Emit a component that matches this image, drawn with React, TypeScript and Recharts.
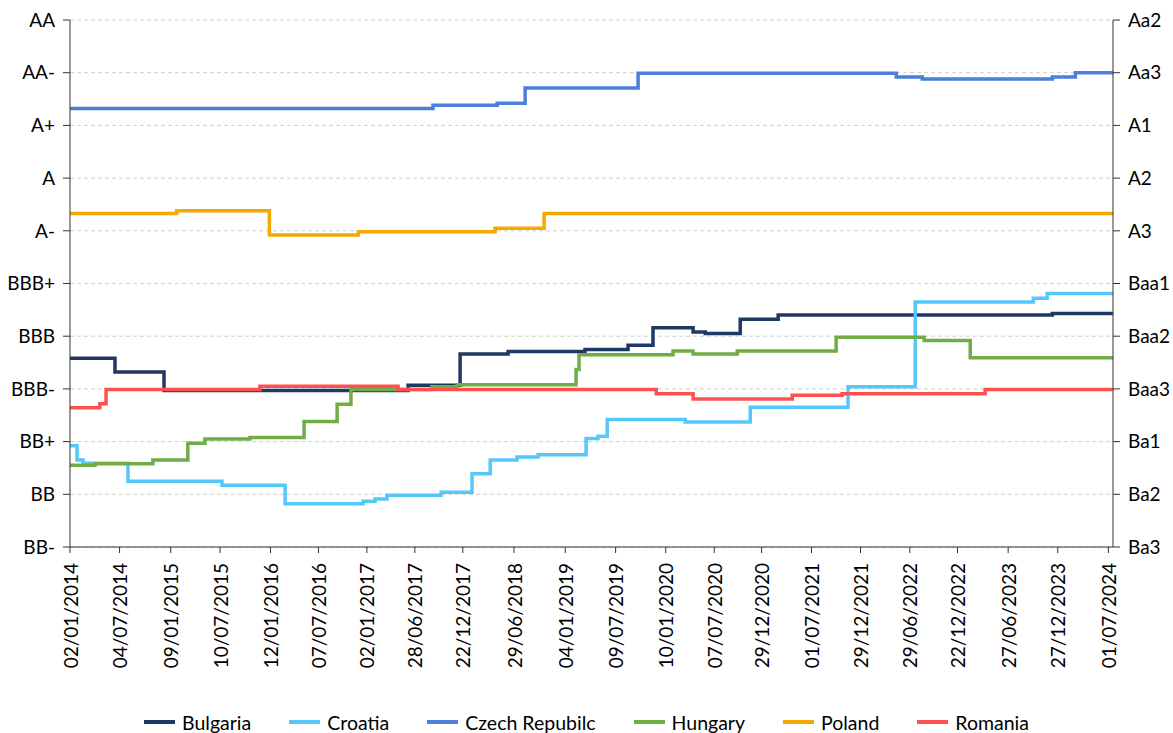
import { LineChart, Line, XAxis, YAxis, CartesianGrid, Legend } from 'recharts'

// Average sovereign rating, 0 = BB- / Ba3 ... 10 = AA / Aa2
const leftLabels = ['BB-', 'BB', 'BB+', 'BBB-', 'BBB', 'BBB+', 'A-', 'A', 'A+', 'AA-', 'AA']
const rightLabels = ['Ba3', 'Ba2', 'Ba1', 'Baa3', 'Baa2', 'Baa1', 'A3', 'A2', 'A1', 'Aa3', 'Aa2']

const tickDates = [
  '2014-01-02', '2014-07-04', '2015-01-09', '2015-07-10', '2016-01-12', '2016-07-07',
  '2017-01-02', '2017-06-28', '2017-12-22', '2018-06-29', '2019-01-04', '2019-07-09',
  '2020-01-10', '2020-07-07', '2020-12-29', '2021-07-01', '2021-12-29', '2022-06-29',
  '2022-12-22', '2023-06-27', '2023-12-27', '2024-07-01',
]
const startDate = '2014-01-02'
const endDate = '2024-07-18'

const bulgaria: [string, number][] = [
  ['2014-01-02', 3.58], ['2014-06-17', 3.32], ['2014-12-15', 2.97], ['2017-06-03', 3.07],
  ['2017-12-12', 3.66], ['2018-06-07', 3.71], ['2019-03-18', 3.75], ['2019-08-24', 3.83],
  ['2019-11-24', 4.16], ['2020-04-20', 4.08], ['2020-06-04', 4.05], ['2020-10-11', 4.32],
  ['2021-02-28', 4.4], ['2023-12-07', 4.43], ['2024-07-18', 4.43],
]

const croatia: [string, number][] = [
  ['2014-01-02', 1.92], ['2014-01-28', 1.65], ['2014-02-19', 1.59], ['2014-08-04', 1.25],
  ['2015-07-17', 1.17], ['2016-03-06', 0.82], ['2016-12-19', 0.87], ['2017-02-01', 0.91],
  ['2017-03-17', 0.98], ['2017-10-03', 1.04], ['2018-01-25', 1.39], ['2018-04-02', 1.65],
  ['2018-07-10', 1.71], ['2018-09-26', 1.75], ['2019-03-22', 2.06], ['2019-05-05', 2.1],
  ['2019-06-08', 2.42], ['2020-03-22', 2.37], ['2020-11-17', 2.65], ['2021-11-13', 3.04],
  ['2022-07-19', 4.65], ['2023-09-28', 4.72], ['2023-11-18', 4.81], ['2024-07-18', 4.81],
]

const czech: [string, number][] = [
  ['2014-01-02', 8.32], ['2017-09-03', 8.38], ['2018-04-28', 8.42], ['2018-08-09', 8.71],
  ['2019-09-30', 8.99], ['2022-05-10', 8.92], ['2022-08-14', 8.88], ['2023-12-07', 8.92],
  ['2024-03-01', 9.0], ['2024-07-18', 9.0],
]

const hungary: [string, number][] = [
  ['2014-01-02', 1.55], ['2014-04-04', 1.58], ['2014-11-04', 1.65], ['2015-03-13', 1.97],
  ['2015-05-15', 2.05], ['2015-10-28', 2.08], ['2016-05-15', 2.38], ['2016-09-14', 2.71],
  ['2016-11-04', 2.99], ['2017-08-30', 3.04], ['2017-12-01', 3.08], ['2019-02-13', 3.37],
  ['2019-02-24', 3.65], ['2020-02-06', 3.72], ['2020-04-20', 3.66], ['2020-09-30', 3.72],
  ['2021-09-30', 3.98], ['2022-08-21', 3.92], ['2023-02-07', 3.59], ['2024-07-18', 3.59],
]

const poland: [string, number][] = [
  ['2014-01-02', 6.33], ['2015-01-31', 6.38], ['2016-01-08', 5.92], ['2016-12-01', 5.98],
  ['2018-04-20', 6.05], ['2018-10-18', 6.33], ['2024-07-18', 6.33],
]

const romania: [string, number][] = [
  ['2014-01-02', 2.64], ['2014-04-22', 2.72], ['2014-05-15', 2.99], ['2015-12-04', 3.05],
  ['2017-04-27', 2.99], ['2019-12-06', 2.91], ['2020-04-20', 2.81], ['2021-04-21', 2.88],
  ['2021-10-22', 2.91], ['2023-04-03', 2.99], ['2024-07-18', 2.99],
]

// both axes share the 0..10 scale; Romania is plotted against the right one so that axis renders
const series = [
  { name: 'Bulgaria', color: '#1f3864', points: bulgaria, axis: 'left' },
  { name: 'Croatia', color: '#55c8fa', points: croatia, axis: 'left' },
  { name: 'Czech Repubilc', color: '#4a7fdc', points: czech, axis: 'left' },
  { name: 'Hungary', color: '#70ad47', points: hungary, axis: 'left' },
  { name: 'Poland', color: '#f5a800', points: poland, axis: 'left' },
  { name: 'Romania', color: '#ff5050', points: romania, axis: 'right' },
]

const FONT = 'Lato, "Open Sans", sans-serif'
const toTime = (d: string) => Date.parse(d + 'T00:00:00Z')
const pad = (n: number) => String(n).padStart(2, '0')
const fmtDate = (t: number) => {
  const d = new Date(t)
  return `${pad(d.getUTCDate())}/${pad(d.getUTCMonth() + 1)}/${d.getUTCFullYear()}`
}

const XTick = ({ x, y, payload }: any) => (
  <text
    x={x}
    y={y}
    transform={`rotate(-90 ${x} ${y})`}
    textAnchor="end"
    dominantBaseline="central"
    fontFamily={FONT}
    fontSize={19}
    fill="#000"
  >
    {fmtDate(payload.value)}
  </text>
)

const LegendContent = () => (
  <div
    style={{
      display: 'flex',
      justifyContent: 'center',
      alignItems: 'center',
      height: 22,
      fontFamily: FONT,
      fontSize: 19.5,
      color: '#000',
    }}
  >
    {series.map((s, i) => (
      <div key={s.name} style={{ display: 'flex', alignItems: 'center', marginLeft: i ? 38 : 0 }}>
        <span style={{ width: 31, height: 4, background: s.color, marginRight: 7 }} />
        <span>{s.name}</span>
      </div>
    ))}
  </div>
)

export default function App() {
  const ticksY = leftLabels.map((_, i) => i)
  return (
    <div style={{ position: 'absolute', left: 0, top: 0, background: '#fff' }}>
      <LineChart width={1173} height={733} margin={{ top: 20, right: 0, bottom: 0, left: 0 }}>
        <CartesianGrid yAxisId="left" vertical={false} stroke="#cfcfcf" strokeDasharray="4 3" />
        <XAxis
          dataKey="t"
          type="number"
          scale="time"
          domain={[toTime(startDate), toTime(endDate)]}
          ticks={tickDates.map(toTime)}
          tick={<XTick />}
          tickSize={6}
          tickMargin={10}
          height={164}
          interval={0}
          stroke="#333"
          allowDataOverflow
        />
        <YAxis
          yAxisId="left"
          type="number"
          domain={[0, 10]}
          ticks={ticksY}
          tickFormatter={(v: number) => leftLabels[v]}
          width={70}
          tickSize={7}
          tickMargin={8}
          interval={0}
          stroke="#333"
          tick={{ fill: '#000', fontFamily: FONT, fontSize: 19 }}
        />
        <YAxis
          yAxisId="right"
          orientation="right"
          type="number"
          domain={[0, 10]}
          ticks={ticksY}
          tickFormatter={(v: number) => rightLabels[v]}
          width={60}
          tickSize={7}
          tickMargin={8}
          interval={0}
          stroke="#333"
          tick={{ fill: '#000', fontFamily: FONT, fontSize: 19 }}
        />
        <Legend verticalAlign="bottom" align="center" content={LegendContent} />
        {series.map((s) => (
          <Line
            key={s.name}
            yAxisId={s.axis}
            name={s.name}
            data={s.points.map(([d, v]) => ({ t: toTime(d), v }))}
            dataKey="v"
            type="stepAfter"
            stroke={s.color}
            strokeWidth={3.5}
            dot={false}
            activeDot={false}
            isAnimationActive={false}
          />
        ))}
      </LineChart>
    </div>
  )
}
